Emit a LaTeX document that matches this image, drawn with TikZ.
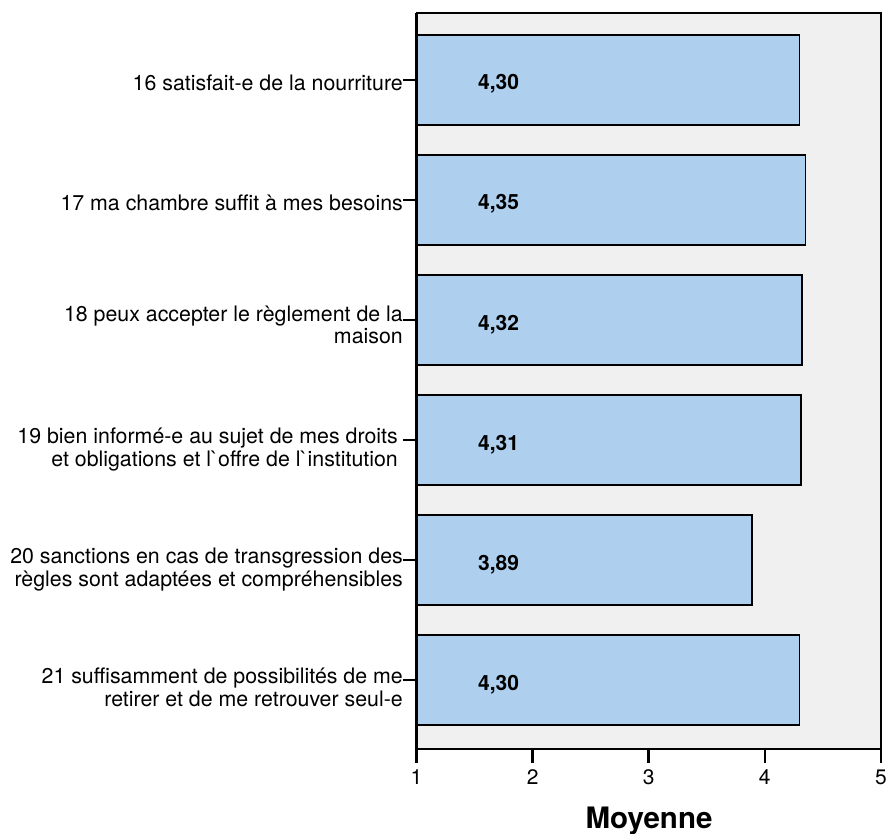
\documentclass[tikz,border=0pt]{standalone}
\usepackage{fontspec}
\setmainfont{TeX Gyre Heros}[Ligatures=TeXOff]
\definecolor{barblue}{RGB}{174,208,238}
\definecolor{plotgray}{RGB}{240,240,240}

\begin{document}
\begin{tikzpicture}[x=1pt,y=-1pt]
            \tikzset{
                bar/.style={draw=black,line width=1.5pt,fill=barblue},
                itemlabel/.style={anchor=north east,inner sep=0pt,align=right,font=\fontsize{21.35}{20.5}\selectfont},
                valuelabel/.style={anchor=base west,inner sep=0pt,font=\fontsize{21}{21}\selectfont\bfseries},
                ticklabel/.style={anchor=base,inner sep=0pt,font=\fontsize{21}{21}\selectfont},}
            \def\xzero{416.5}
            \def\xunit{116.1}
            \useasboundingbox (0,0) rectangle (888,834);
            % plot area
            \filldraw [fill=plotgray,draw=black,line width=1.3pt] (\xzero,13) rectangle (881,749);
            \foreach \v/\lbl [count=\i] in {4.30/{4,30},4.35/{4,35},4.32/{4,32},4.31/{4,31},3.89/{3,89},4.30/{4,30}}{
                \pgfmathsetmacro\c{80+120*(\i-1)}
                \draw [bar] (\xzero,\c-45) rectangle ({\xzero+(\v-1)*\xunit},\c+45);
                \node [valuelabel] (val\i) at (478,\c+10) {\lbl};
                \draw [line width=2.5pt] (403,\c) -- (\xzero,\c);
            }
            % axes
            \draw [line width=2.5pt] (\xzero,13) -- (\xzero,749) -- (881,749);
            \foreach \t in {1,...,5}{
                \draw [line width=2.5pt] ({\xzero+(\t-1)*\xunit},749) -- ++(0,14);
                \node [ticklabel] (tick\t) at ({\xzero+(\t-1)*\xunit},784) {\t};
            }
            % item labels
            \node [itemlabel] (q16) at (403,74.6) {\strut 16 satisfait-e de la nourriture};
            \node [itemlabel] (q17) at (403,194.6) {\strut 17 ma chambre suffit à mes besoins};
            \node [itemlabel] (q18) at (403,305.6) {\strut 18 peux accepter le règlement de la\\maison};
            \node [itemlabel] (q19) at (398,427.6) {\strut 19 bien informé-e au sujet de mes droits\\et obligations et l`offre de l`institution};
            \node [itemlabel] (q20) at (403,547.6) {\strut 20 sanctions en cas de transgression des\\règles sont adaptées et compréhensibles};
            \node [itemlabel] (q21) at (403,667.6) {\strut 21 suffisamment de possibilités de me\\retirer et de me retrouver seul-e};
            \node [anchor=base,inner sep=0pt,font=\fontsize{29.5}{30}\selectfont\bfseries] (moy) at (649,828) {Moyenne};
        \end{tikzpicture}
\end{document}
